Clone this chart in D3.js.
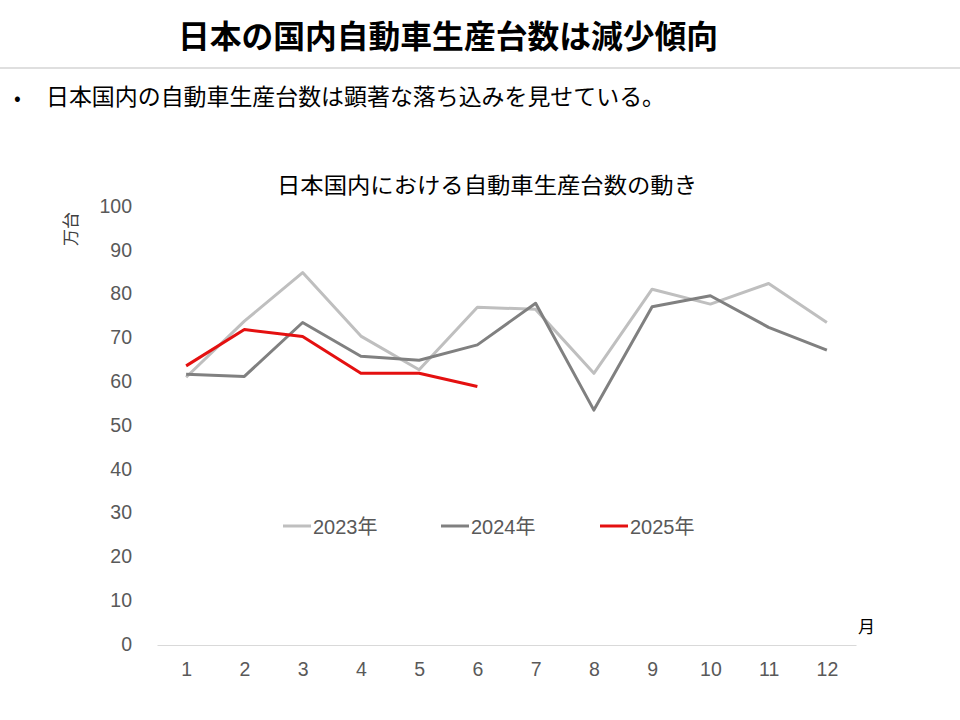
<!DOCTYPE html>
<html><head><meta charset="utf-8">
<script src="https://cdn.jsdelivr.net/npm/d3@7"></script>
<style>body{margin:0;background:#fff;}svg{display:block;font-family:"Noto Sans CJK JP","Noto Sans",sans-serif;}</style>
</head><body>
<svg id="c" width="960" height="720"></svg>
<script>
const months = ["1","2","3","4","5","6","7","8","9","10","11","12"];
const yTicks = [0,10,20,30,40,50,60,70,80,90,100];
const seriesNames = ["2023年","2024年","2025年"];
const v2023 = [60.9,73.7,84.8,70.3,62.6,76.9,76.4,61.8,81.0,77.6,82.3,73.4];
const v2024 = [61.6,61.1,73.4,65.7,64.8,68.3,77.8,53.4,77.0,79.5,72.3,67.1];
const v2025 = [63.5,71.8,70.2,61.8,61.8,58.8];
const colors = ["#bfbfbf","#808080","#e41010"];

const svg = d3.select("#c");
svg.append("text").attr("transform","translate(178,48) scale(1,1.1)")
  .attr("font-size",28.5).attr("font-weight","bold").attr("fill","#000")
  .attr("textLength",540).attr("lengthAdjust","spacingAndGlyphs").text("日本の国内自動車生産台数は減少傾向");
svg.append("line").attr("x1",0).attr("x2",960).attr("y1",68).attr("y2",68).attr("stroke","#bfbfbf").attr("stroke-width",1.2);
svg.append("text").attr("x",14).attr("y",105).attr("font-size",20).attr("fill","#000").text("•");
svg.append("text").attr("x",46).attr("y",105).attr("font-size",22.5).attr("fill","#000")
  .attr("textLength",619).attr("lengthAdjust","spacingAndGlyphs").text("日本国内の自動車生産台数は顕著な落ち込みを見せている。");
svg.append("text").attr("x",277).attr("y",193).attr("font-size",22).attr("fill","#000")
  .attr("textLength",420).attr("lengthAdjust","spacingAndGlyphs").text("日本国内における自動車生産台数の動き");

const x = d3.scalePoint().domain(months).range([157,856]).padding(0.5);
const y = d3.scaleLinear().domain([0,100]).range([644,206]);

const yAxis = svg.append("g").attr("transform","translate(157,0)")
  .call(d3.axisLeft(y).tickValues(yTicks).tickSize(0).tickPadding(25));
yAxis.select(".domain").remove();
yAxis.selectAll("text").attr("font-size",19.5).attr("fill","#595959").attr("font-family","Liberation Sans, Arial, sans-serif");

const xAxis = svg.append("g").attr("transform","translate(0,645)")
  .call(d3.axisBottom(x).tickSize(0).tickPadding(17));
xAxis.select(".domain").attr("stroke","#d9d9d9").attr("stroke-width",1.2);
xAxis.selectAll("text").attr("font-size",19.5).attr("fill","#595959").attr("font-family","Liberation Sans, Arial, sans-serif");

svg.append("text").attr("transform","translate(77,229) rotate(-90)").attr("text-anchor","middle")
  .attr("font-size",17).attr("fill","#404040").text("万台");
svg.append("text").attr("x",858).attr("y",633).attr("font-size",17).attr("fill","#000").text("月");

const line = d3.line().x((d,i)=>x(months[i])).y(d=>y(d));
[v2023,v2024,v2025].forEach((vals,k)=>{
  svg.append("path").datum(vals).attr("d",line).attr("fill","none")
    .attr("stroke",colors[k]).attr("stroke-width",3).attr("stroke-linejoin","round");
});

const legX = [283,441,600];
seriesNames.forEach((n,k)=>{
  svg.append("line").attr("x1",legX[k]).attr("x2",legX[k]+28).attr("y1",526).attr("y2",526)
    .attr("stroke",colors[k]).attr("stroke-width",3);
  svg.append("text").attr("x",legX[k]+30).attr("y",534).attr("font-size",20).attr("fill","#595959")
    .attr("font-family","Liberation Sans, Noto Sans CJK JP, sans-serif").text(n);
});
</script>
</body></html>
